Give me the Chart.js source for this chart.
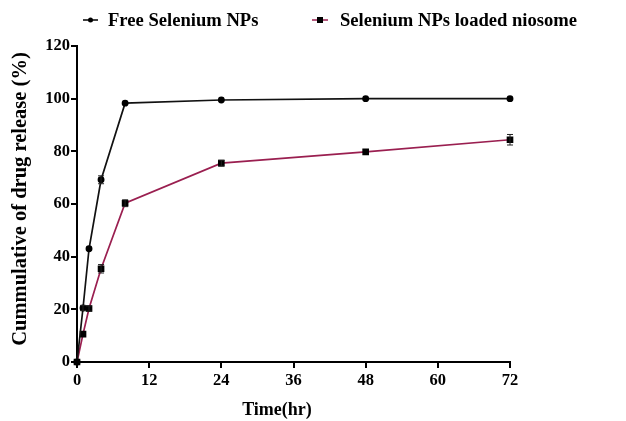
<!DOCTYPE html>
<html>
<head>
<meta charset="utf-8">
<script src="https://cdn.jsdelivr.net/npm/chart.js@4.4.1/dist/chart.umd.min.js"></script>
<style>
  html, body { margin: 0; padding: 0; background: #fff; }
  #wrap { width: 626px; height: 421px; }
</style>
</head>
<body>
<div id="wrap"><canvas id="release-chart" width="626" height="421"></canvas></div>
<script>
// time points (hr)
const timeFree = [0, 1, 2, 4, 8, 24, 48, 72];
const freeRelease = [0, 20.5, 43, 69.2, 98.3, 99.5, 100, 100];
const freeError = [0.3, 1.0, 0.8, 1.5, 0.8, 0.5, 0.4, 0.4];

const timeNio = [0, 1, 2, 4, 8, 24, 48, 72];
const nioRelease = [0, 10.6, 20.3, 35.4, 60.3, 75.5, 79.8, 84.4];
const nioError = [0.3, 0.8, 1.0, 1.6, 1.3, 1.1, 0.8, 2.0];

const xTicks = [0, 12, 24, 36, 48, 60, 72];
const yTicks = [0, 20, 40, 60, 80, 100, 120];

const seriesLabels = ["Free Selenium NPs", "Selenium NPs loaded niosome"];
const maroon = "#9a1f50";
const serif = "'Liberation Serif', 'Times New Roman', serif";

// error bars drawn from the arrays above through the scales
const errorBars = {
  id: "errorBars",
  afterDatasetsDraw(chart) {
    const ctx = chart.ctx;
    const xs = chart.scales.x, ys = chart.scales.y;
    const sets = [[timeFree, freeRelease, freeError], [timeNio, nioRelease, nioError]];
    ctx.save();
    ctx.strokeStyle = "#222";
    ctx.lineWidth = 1;
    sets.forEach(function (s) {
      for (let i = 0; i < s[0].length; i++) {
        const px = xs.getPixelForValue(s[0][i]);
        const top = ys.getPixelForValue(s[1][i] + s[2][i]);
        const bot = ys.getPixelForValue(s[1][i] - s[2][i]);
        if (bot - top < 5) continue;
        ctx.beginPath();
        ctx.moveTo(px, top); ctx.lineTo(px, bot);
        ctx.moveTo(px - 3, top); ctx.lineTo(px + 3, top);
        ctx.moveTo(px - 3, bot); ctx.lineTo(px + 3, bot);
        ctx.stroke();
      }
    });
    ctx.restore();
  }
};

// legend and axis titles
const labelsPlugin = {
  id: "labelsPlugin",
  afterDraw(chart) {
    const ctx = chart.ctx;
    ctx.save();
    ctx.fillStyle = "#000";
    ctx.font = "bold 18.6px " + serif;
    ctx.textBaseline = "middle";

    // legend item 1
    ctx.strokeStyle = "#000"; ctx.lineWidth = 1.5;
    ctx.beginPath(); ctx.moveTo(83, 20); ctx.lineTo(98, 20); ctx.stroke();
    ctx.beginPath(); ctx.arc(90.5, 20, 2.5, 0, Math.PI * 2); ctx.fill();
    ctx.fillText(seriesLabels[0], 108, 21);

    // legend item 2
    ctx.strokeStyle = maroon;
    ctx.beginPath(); ctx.moveTo(312, 20); ctx.lineTo(328, 20); ctx.stroke();
    ctx.fillStyle = "#000";
    ctx.fillRect(317, 17, 6, 6);
    ctx.fillText(seriesLabels[1], 340, 21);

    // x title
    ctx.font = "bold 18px " + serif;
    ctx.textAlign = "center";
    ctx.fillText("Time(hr)", 277, 410);

    // y title
    ctx.font = "bold 20.5px " + serif;
    ctx.translate(21, 199);
    ctx.rotate(-Math.PI / 2);
    ctx.fillText("Cummulative of drug release (%)", 0, 0);
    ctx.restore();
  }
};

new Chart(document.getElementById("release-chart"), {
  type: "line",
  data: {
    datasets: [
      {
        label: seriesLabels[0],
        data: timeFree.map((t, i) => ({ x: t, y: freeRelease[i] })),
        borderColor: "#111",
        backgroundColor: "#000",
        borderWidth: 1.7,
        pointStyle: "circle",
        pointRadius: 2.6,
        pointBackgroundColor: "#000",
        pointBorderColor: "#000",
        tension: 0
      },
      {
        label: seriesLabels[1],
        data: timeNio.map((t, i) => ({ x: t, y: nioRelease[i] })),
        borderColor: maroon,
        backgroundColor: "#000",
        borderWidth: 1.7,
        pointStyle: "rect",
        pointRadius: 3.5,
        pointBackgroundColor: "#000",
        pointBorderColor: "#000",
        tension: 0
      }
    ]
  },
  options: {
    responsive: false,
    animation: false,
    clip: false,
    layout: { padding: { top: 46, right: 116, left: 0, bottom: 0 } },
    plugins: { legend: { display: false }, tooltip: { enabled: false } },
    scales: {
      x: {
        type: "linear",
        min: 0, max: 72,
        afterFit: (s) => { s.height = 59; },
        afterBuildTicks: (s) => { s.ticks = xTicks.map(v => ({ value: v })); },
        ticks: { color: "#000", padding: 3, font: { family: serif, size: 16.5, weight: "bold" } },
        grid: { drawOnChartArea: false, drawTicks: true, tickLength: 6, color: "#000", lineWidth: 2 },
        border: { color: "#000", width: 2 }
      },
      y: {
        min: 0, max: 120,
        afterFit: (s) => { s.width = 77; },
        afterBuildTicks: (s) => { s.ticks = yTicks.map(v => ({ value: v })); },
        ticks: { color: "#000", padding: 1, font: { family: serif, size: 16.5, weight: "bold" } },
        grid: { drawOnChartArea: false, drawTicks: true, tickLength: 6, color: "#000", lineWidth: 2 },
        border: { color: "#000", width: 2 }
      }
    }
  },
  plugins: [errorBars, labelsPlugin]
});
</script>
</body>
</html>
